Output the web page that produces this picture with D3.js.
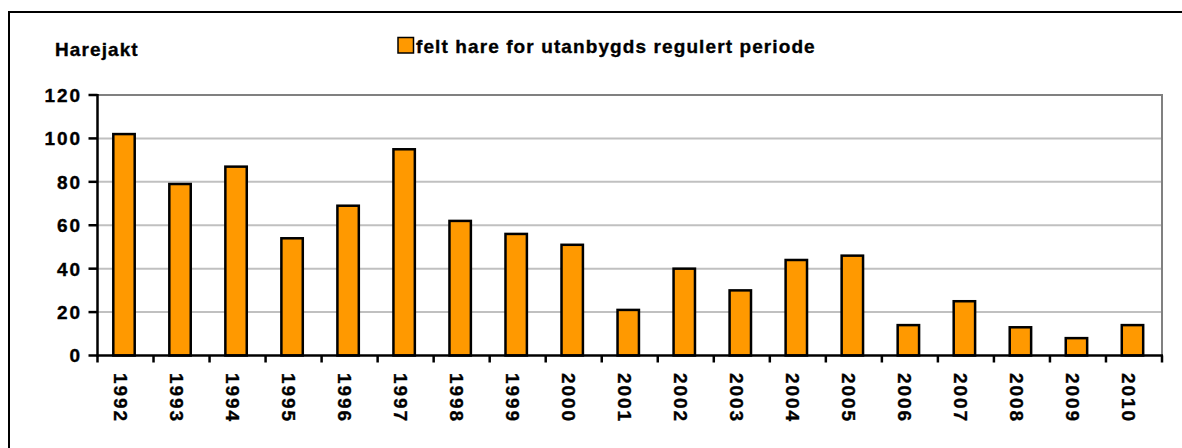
<!DOCTYPE html>
<html>
<head>
<meta charset="utf-8">
<script src="https://cdn.jsdelivr.net/npm/d3@7"></script>
<style>
  html, body { margin: 0; padding: 0; background: #fff; }
  svg { display: block; }
  text { font-family: "Liberation Sans", Arial, sans-serif; font-weight: bold; fill: #000; stroke: #000; stroke-width: 0.35px; }
</style>
</head>
<body>
<svg id="chart" width="1182" height="448"></svg>
<script>
// ---- data ----
const years = ["1992","1993","1994","1995","1996","1997","1998","1999","2000","2001",
               "2002","2003","2004","2005","2006","2007","2008","2009","2010"];
const felt = [102, 79, 87, 54, 69, 95, 62, 56, 51, 21, 40, 30, 44, 46, 14, 25, 13, 8, 14];
const yTicks = [0, 20, 40, 60, 80, 100, 120];
const seriesName = "felt hare for utanbygds regulert periode";
const axisTitle = "Harejakt";

// ---- layout ----
const W = 1182, H = 448;
const plot = { left: 97.5, right: 1162, top: 95, bottom: 355.5 };

const svg = d3.select("#chart");

// outer chart border (cut off at right/bottom as in the reference)
svg.append("rect")
  .attr("x", 9).attr("y", 12)
  .attr("width", W + 20).attr("height", H + 20)
  .attr("fill", "#fff").attr("stroke", "#000").attr("stroke-width", 2);

const y = d3.scaleLinear().domain([0, 120]).range([plot.bottom, plot.top]);
const x = d3.scaleBand().domain(years).range([plot.left, plot.right])
  .paddingInner(0.6).paddingOuter(0.3).align(0.47);
const step = (plot.right - plot.left) / years.length;
const catCenter = (i) => plot.left + step * (i + 0.5);

// gridlines
svg.append("g").selectAll("line")
  .data(yTicks.filter(t => t > 0 && t < 120))
  .join("line")
  .attr("x1", plot.left).attr("x2", plot.right)
  .attr("y1", d => y(d)).attr("y2", d => y(d))
  .attr("stroke", "#c0c0c0").attr("stroke-width", 2);

// plot frame top/right (gray)
svg.append("path")
  .attr("d", `M${plot.left},${y(120)}H${plot.right}V${plot.bottom}`)
  .attr("fill", "none").attr("stroke", "#808080").attr("stroke-width", 2);

// bars
svg.append("g").selectAll("rect")
  .data(felt)
  .join("rect")
  .attr("x", (d, i) => x(years[i]))
  .attr("width", x.bandwidth() - 1)
  .attr("y", d => y(d))
  .attr("height", d => y(0) - y(d))
  .attr("fill", "#ff9900")
  .attr("stroke", "#000")
  .attr("stroke-width", 2.5);

// y axis
const yAxis = svg.append("g");
yAxis.append("line")
  .attr("x1", plot.left).attr("x2", plot.left)
  .attr("y1", y(120) - 1).attr("y2", y(0) + 1)
  .attr("stroke", "#000").attr("stroke-width", 2.5);
yAxis.selectAll("line.tick")
  .data(yTicks).join("line").attr("class", "tick")
  .attr("x1", plot.left - 9).attr("x2", plot.left)
  .attr("y1", d => y(d)).attr("y2", d => y(d))
  .attr("stroke", "#000").attr("stroke-width", 2.5);
yAxis.selectAll("text")
  .data(yTicks).join("text")
  .attr("x", 82).attr("y", d => y(d))
  .attr("dy", "0.36em")
  .attr("text-anchor", "end")
  .style("font-size", "19px")
  .style("letter-spacing", "1.9px")
  .text(d => d);

// x axis
const xAxis = svg.append("g");
xAxis.append("line")
  .attr("x1", plot.left - 1).attr("x2", plot.right + 1)
  .attr("y1", y(0)).attr("y2", y(0))
  .attr("stroke", "#000").attr("stroke-width", 2.5);
xAxis.selectAll("line.tick")
  .data(d3.range(years.length + 1)).join("line").attr("class", "tick")
  .attr("x1", i => plot.left + i * step).attr("x2", i => plot.left + i * step)
  .attr("y1", y(0)).attr("y2", y(0) + 7)
  .attr("stroke", "#000").attr("stroke-width", 2.5);
xAxis.selectAll("text")
  .data(years).join("text")
  .attr("transform", (d, i) => `translate(${catCenter(i) - 12},373) rotate(90)`)
  .attr("text-anchor", "start")
  .style("font-size", "19px")
  .style("letter-spacing", "1.9px")
  .text(d => d);

// axis title
svg.append("text")
  .attr("x", 55).attr("y", 55.5)
  .style("font-size", "19px")
  .style("letter-spacing", "1.1px")
  .text(axisTitle);

// legend
svg.append("rect")
  .attr("x", 398).attr("y", 37.5)
  .attr("width", 15.5).attr("height", 15.5)
  .attr("fill", "#ff9900").attr("stroke", "#000").attr("stroke-width", 1.5);
svg.append("text")
  .attr("x", 416).attr("y", 52.5)
  .style("font-size", "19px")
  .style("letter-spacing", "1.1px")
  .text(seriesName);
</script>
</body>
</html>
